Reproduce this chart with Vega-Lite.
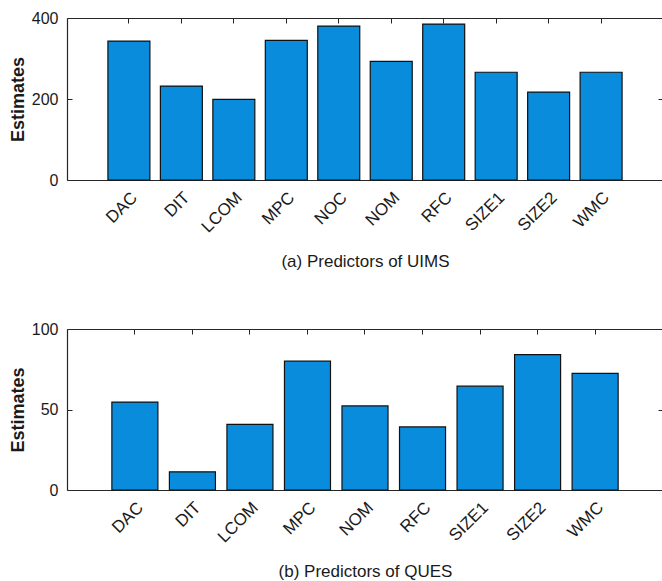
{
  "$schema": "https://vega.github.io/schema/vega-lite/v6.json",
  "background": "white",
  "padding": {"left": 9, "top": 10, "right": 0, "bottom": 2},
  "autosize": {"type": "pad"},
  "spacing": 51,
  "datasets": {
    "uims": [
      {"predictor": "DAC", "estimate": 343},
      {"predictor": "DIT", "estimate": 232},
      {"predictor": "LCOM", "estimate": 199},
      {"predictor": "MPC", "estimate": 345},
      {"predictor": "NOC", "estimate": 380},
      {"predictor": "NOM", "estimate": 293},
      {"predictor": "RFC", "estimate": 385},
      {"predictor": "SIZE1", "estimate": 266},
      {"predictor": "SIZE2", "estimate": 217},
      {"predictor": "WMC", "estimate": 266}
    ],
    "ques": [
      {"predictor": "DAC", "estimate": 54.6},
      {"predictor": "DIT", "estimate": 11.3},
      {"predictor": "LCOM", "estimate": 40.8},
      {"predictor": "MPC", "estimate": 80},
      {"predictor": "NOM", "estimate": 52.2},
      {"predictor": "RFC", "estimate": 39.2},
      {"predictor": "SIZE1", "estimate": 64.5},
      {"predictor": "SIZE2", "estimate": 84.1},
      {"predictor": "WMC", "estimate": 72.4}
    ]
  },
  "config": {
    "view": {"stroke": null},
    "font": "Liberation Sans",
    "axis": {
      "grid": false,
      "domainColor": "#262626",
      "domainWidth": 1.2,
      "tickColor": "#262626",
      "tickWidth": 1,
      "tickSize": -5,
      "labelColor": "#1a1a1a",
      "labelFont": "Liberation Sans",
      "labelFontSize": 17,
      "titleColor": "#1a1a1a",
      "titleFont": "Liberation Sans"
    }
  },
  "vconcat": [
    {
      "width": 596,
      "height": 162,
      "data": {"name": "uims"},
      "encoding": {
        "x": {
          "field": "predictor",
          "type": "nominal",
          "sort": null,
          "scale": {"paddingInner": 0.2, "paddingOuter": 0.78},
          "axis": {"orient": "bottom", "labelAngle": -45, "labelFontSize": 17, "labelPadding": 14, "title": "(a) Predictors of UIMS", "titleFontSize": 17, "titleFontWeight": "normal", "titlePadding": 18}
        },
        "y": {
          "field": "estimate",
          "type": "quantitative",
          "scale": {"domain": [0, 400]},
          "axis": {"values": [0, 200, 400], "labelFontSize": 16, "title": "Estimates", "titleFontSize": 18, "titleFontWeight": "bold", "labelPadding": 14, "titlePadding": 4}
        }
      },
      "layer": [
        {"mark": {"type": "bar", "color": "#0a8cdc", "stroke": "#111111", "strokeWidth": 1.2}},
        {
          "mark": {"type": "rule", "opacity": 0},
          "encoding": {
            "x": {"field": "predictor", "type": "nominal", "sort": null, "axis": {"orient": "top", "labels": false, "title": null, "domain": true}},
            "y": {"field": "estimate", "type": "quantitative", "axis": {"orient": "right", "values": [0, 200, 400], "labels": false, "domain": false, "title": null}}
          }
        }
      ],
      "resolve": {"axis": {"x": "independent", "y": "independent"}}
    },
    {
      "width": 596,
      "height": 161,
      "data": {"name": "ques"},
      "encoding": {
        "x": {
          "field": "predictor",
          "type": "nominal",
          "sort": null,
          "scale": {"paddingInner": 0.2, "paddingOuter": 0.78},
          "axis": {"orient": "bottom", "labelAngle": -45, "labelFontSize": 17, "labelPadding": 14, "title": "(b) Predictors of QUES", "titleFontSize": 17, "titleFontWeight": "normal", "titlePadding": 18}
        },
        "y": {
          "field": "estimate",
          "type": "quantitative",
          "scale": {"domain": [0, 100]},
          "axis": {"values": [0, 50, 100], "labelFontSize": 16, "title": "Estimates", "titleFontSize": 18, "titleFontWeight": "bold", "labelPadding": 14, "titlePadding": 4}
        }
      },
      "layer": [
        {"mark": {"type": "bar", "color": "#0a8cdc", "stroke": "#111111", "strokeWidth": 1.2}},
        {
          "mark": {"type": "rule", "opacity": 0},
          "encoding": {
            "x": {"field": "predictor", "type": "nominal", "sort": null, "axis": {"orient": "top", "labels": false, "title": null, "domain": true}},
            "y": {"field": "estimate", "type": "quantitative", "axis": {"orient": "right", "values": [0, 50, 100], "labels": false, "domain": false, "title": null}}
          }
        }
      ],
      "resolve": {"axis": {"x": "independent", "y": "independent"}}
    }
  ]
}
